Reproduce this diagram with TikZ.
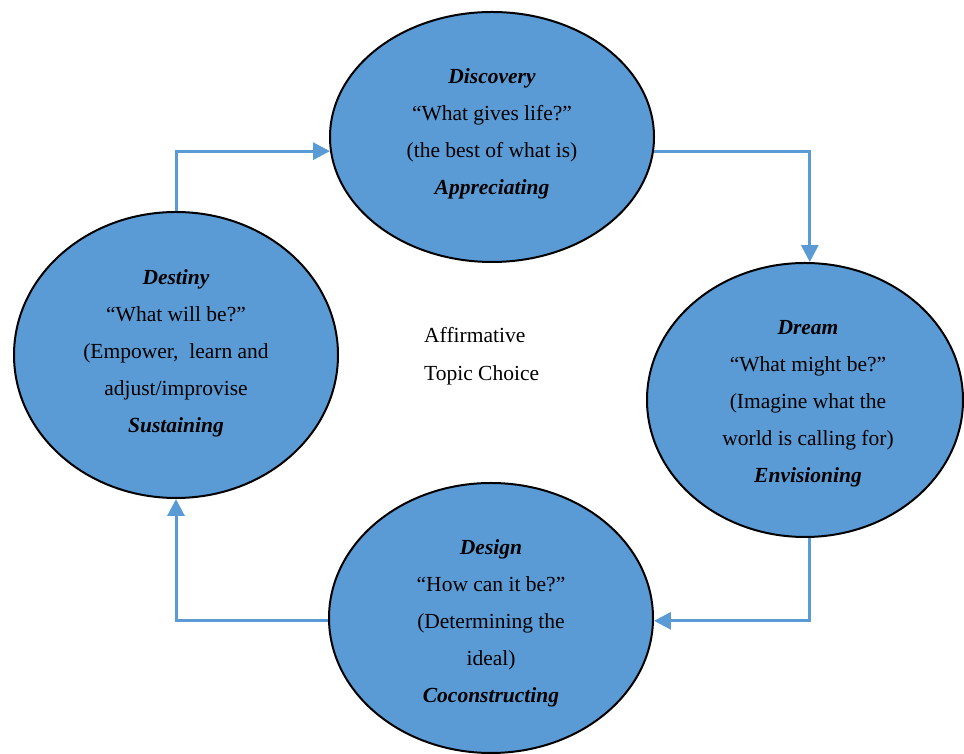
\documentclass[tikz,border=0pt]{standalone}
\usepackage{fontspec}
\setmainfont{Liberation Serif}
\usetikzlibrary{arrows.meta,shapes.geometric}
\definecolor{phaseblue}{HTML}{5B9BD5}
\begin{document}
\begin{tikzpicture}[x=1pt,y=1pt,
  phase/.style={ellipse, draw=black, line width=2pt, fill=phaseblue, inner sep=0pt},
  phasetext/.style={align=center, inner sep=0pt, font=\fontsize{21.5}{37}\selectfont},
  flow/.style={draw=phaseblue, line width=3pt,
    -{Triangle[length=17pt,width=17pt]}},
  plain/.style={align=left, inner sep=0pt, font=\fontsize{21.5}{38}\selectfont},
  ]
\useasboundingbox (0,0) rectangle (964,754);

% the four phases of the cycle
\node[phase, minimum width=324pt, minimum height=250pt] (discovery) at (492,617) {};
\node[phase, minimum width=316pt, minimum height=274pt] (dream) at (805,354) {};
\node[phase, minimum width=324pt, minimum height=270pt] (design) at (491,136) {};
\node[phase, minimum width=324pt, minimum height=286pt] (destiny) at (176,399) {};

% their captions
\node[phasetext] (discoverytext) at ([yshift=3pt]discovery.center)
  {\textbf{\textit{Discovery}}\\“What gives life?”\\(the best of what is)\\\textbf{\textit{Appreciating}}};
\node[phasetext] (dreamtext) at ([xshift=3pt,yshift=-4pt]dream.center)
  {\textbf{\textit{Dream}}\\“What might be?”\\(Imagine what the\\world is calling for)\\\textbf{\textit{Envisioning}}};
\node[phasetext] (designtext) at ([yshift=-5pt]design.center)
  {\textbf{\textit{Design}}\\“How can it be?”\\(Determining the\\ideal)\\\textbf{\textit{Coconstructing}}};
\node[phasetext] (destinytext) at ([yshift=2pt]destiny.center)
  {\textbf{\textit{Destiny}}\\“What will be?”\\(Empower,\ \ learn and\\adjust/improvise\\\textbf{\textit{Sustaining}}};

% centre label
\node[plain, anchor=west] (topic) at (424,398) {Affirmative\\Topic Choice};

% connectors around the cycle
\draw[flow] (destiny.north) |- (discovery.185);
\draw[flow] (discovery.355) -| (dream.88);
\draw[flow] (dream.272) |- (design.359);
\draw[flow] (design.181) -| (destiny.south);
\end{tikzpicture}
\end{document}
